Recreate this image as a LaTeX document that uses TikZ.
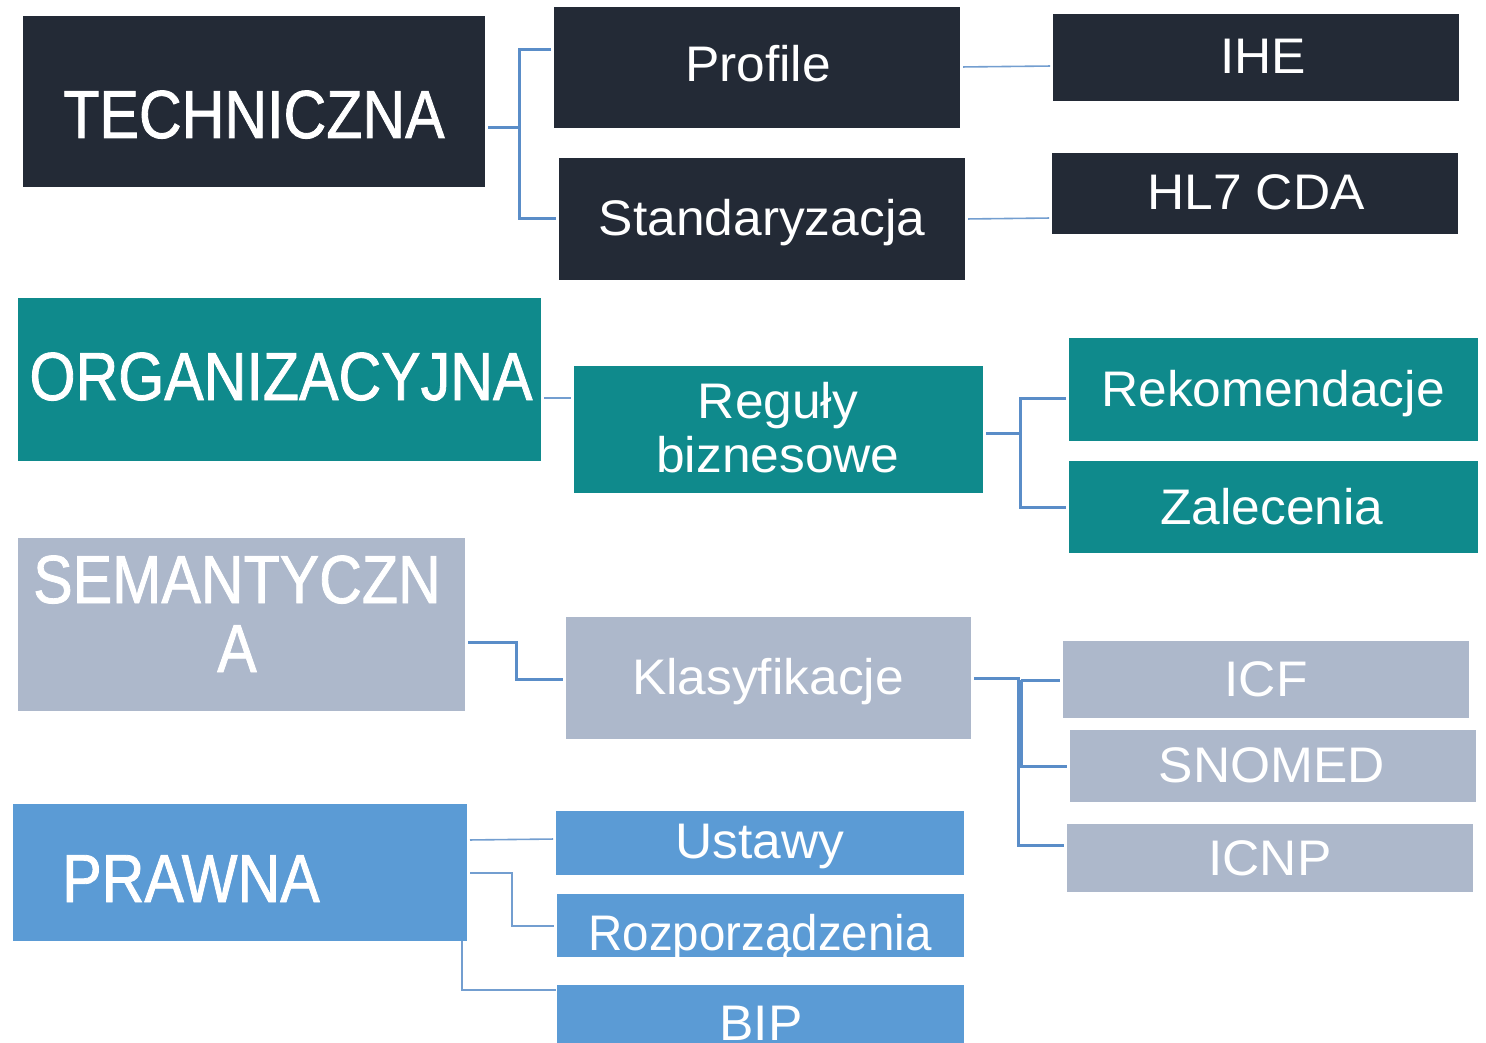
\documentclass[tikz,border=0pt]{standalone}
\usepackage{fontspec}
\setmainfont{Liberation Sans}
\newfontfamily\capf[FakeStretch=0.87,FakeBold=1.2]{Liberation Sans}
\newfontfamily\lowf[FakeStretch=1.03]{Liberation Sans}
\newfontfamily\narf[FakeStretch=0.95]{Liberation Sans}
\usetikzlibrary{calc}
\definecolor{cdark}{HTML}{232A36}
\definecolor{cteal}{HTML}{0F8A8C}
\definecolor{cgrey}{HTML}{ADB8CB}
\definecolor{cblue}{HTML}{5B9BD5}
\definecolor{cline}{HTML}{5A8DC8}
\tikzset{
  bx/.style={rectangle, inner sep=0pt, outer sep=0pt, anchor=north west},
  dbx/.style={bx, fill=cdark},
  tbx/.style={bx, fill=cteal},
  gbx/.style={bx, fill=cgrey},
  bbx/.style={bx, fill=cblue},
  big/.style={anchor=base, inner sep=0pt, text=white, font=\capf\fontsize{68}{80}\selectfont},
  lbl/.style={anchor=base, inner sep=0pt, text=white, font=\lowf\fontsize{50}{60}\selectfont},
  conn/.style={draw=cline, line width=3pt, shorten <=3pt, shorten >=3pt},
  tconn/.style={draw=cline!85, line width=1.6pt, shorten <=3pt, shorten >=3pt},
}
\begin{document}
\begin{tikzpicture}[x=1pt,y=-1pt]
\useasboundingbox (0,0) rectangle (1486,1043);
% boxes
\node[dbx, minimum width=462, minimum height=171] (tech) at (23,16) {};
\node[dbx, minimum width=406, minimum height=121] (prof) at (554,7) {};
\node[dbx, minimum width=406, minimum height=122] (std) at (559,158) {};
\node[dbx, minimum width=406, minimum height=87] (ihe) at (1053,14) {};
\node[dbx, minimum width=406, minimum height=81] (hl7) at (1052,153) {};
\node[tbx, minimum width=523, minimum height=163] (org) at (18,298) {};
\node[tbx, minimum width=409, minimum height=127] (reg) at (574,366) {};
\node[tbx, minimum width=409, minimum height=103] (rek) at (1069,338) {};
\node[tbx, minimum width=409, minimum height=92] (zal) at (1069,461) {};
\node[gbx, minimum width=447, minimum height=173] (sem) at (18,538) {};
\node[gbx, minimum width=405, minimum height=122] (klas) at (566,617) {};
\node[gbx, minimum width=406, minimum height=77] (icf) at (1063,641) {};
\node[gbx, minimum width=406, minimum height=72] (snomed) at (1070,730) {};
\node[gbx, minimum width=406, minimum height=68] (icnp) at (1067,824) {};
\node[bbx, minimum width=454, minimum height=137] (praw) at (13,804) {};
\node[bbx, minimum width=408, minimum height=64] (ust) at (556,811) {};
\node[bbx, minimum width=407, minimum height=63] (roz) at (557,894) {};
\node[bbx, minimum width=407, minimum height=70] (bip) at (557,985) {};
% labels
\node[big] (techT) at (254,138) {TECHNICZNA};
\node[big] (orgT) at (281,400) {ORGANIZACYJNA};
\node[big] (semT1) at (237,603) {SEMANTYCZN};
\node[big] (semT2) at (237,672) {A};
\node[big] (prawT) at (191,902) {PRAWNA};
\node[lbl] (profT) at (758,82) {Profile};
\node[lbl] (ihT) at (1263,74) {IHE};
\node[lbl] (stdT) at (762,236) {Standaryzacja};
\node[lbl] (hl7T) at (1256,210) {HL7 CDA};
\node[lbl] (regT1) at (778,418) {Reguły};
\node[lbl] (regT2) at (778,472) {biznesowe};
\node[lbl] (rekT) at (1273,406) {Rekomendacje};
\node[lbl] (zalT) at (1272,524) {Zalecenia};
\node[lbl] (klasT) at (768,694) {Klasyfikacje};
\node[lbl] (icfT) at (1266,696) {ICF};
\node[lbl] (snoT) at (1272,782) {SNOMED};
\node[lbl] (icnpT) at (1270,875) {ICNP};
\node[lbl] (ustT) at (760,858) {Ustawy};
\begin{scope}
\clip (roz.north west) rectangle (roz.south east);
\node[lbl, font=\narf\fontsize{50}{60}\selectfont] (rozT) at (760,950) {Rozporządzenia};
\end{scope}
\node[lbl] (bipT) at (761,1040) {BIP};
% connectors
\draw[conn, shorten >=0pt] (tech.east |- 0,128) -- (519,128);
\draw[conn] (prof.west |- 0,50) -- (519,50) -- (519,219) -- (std.west |- 0,219);
\draw[tconn] (prof.east |- 0,67) -- (ihe.west |- 0,66);
\draw[tconn] (std.east |- 0,219) -- (hl7.west |- 0,218);
\draw[tconn] (org.east |- 0,398) -- (reg.west |- 0,398);
\draw[conn, shorten >=0pt] (reg.east |- 0,433) -- (1020,433);
\draw[conn] (rek.west |- 0,398) -- (1020,398) -- (1020,507) -- (zal.west |- 0,507);
\draw[conn] (sem.east |- 0,642) -- (516,642) -- (516,679) -- (klas.west |- 0,679);
\draw[conn] (klas.east |- 0,678) -- (1018,678) -- (1018,845) -- (icnp.west |- 0,845);
\draw[conn, shorten <=0pt] (1021,680) -- (icf.west |- 0,680);
\draw[conn, shorten <=0pt] (1021,680) -- (1021,766) -- (snomed.west |- 0,766);
\draw[tconn] (praw.east |- 0,840) -- (ust.west |- 0,839);
\draw[tconn] (praw.east |- 0,873) -- (512,873) -- (512,926) -- (roz.west |- 0,926);
\draw[tconn, shorten <=0pt, shorten >=1pt] ($(praw.south east)+(-5,0)$) -- (462,990) -- (bip.west |- 0,990);
\end{tikzpicture}
\end{document}
